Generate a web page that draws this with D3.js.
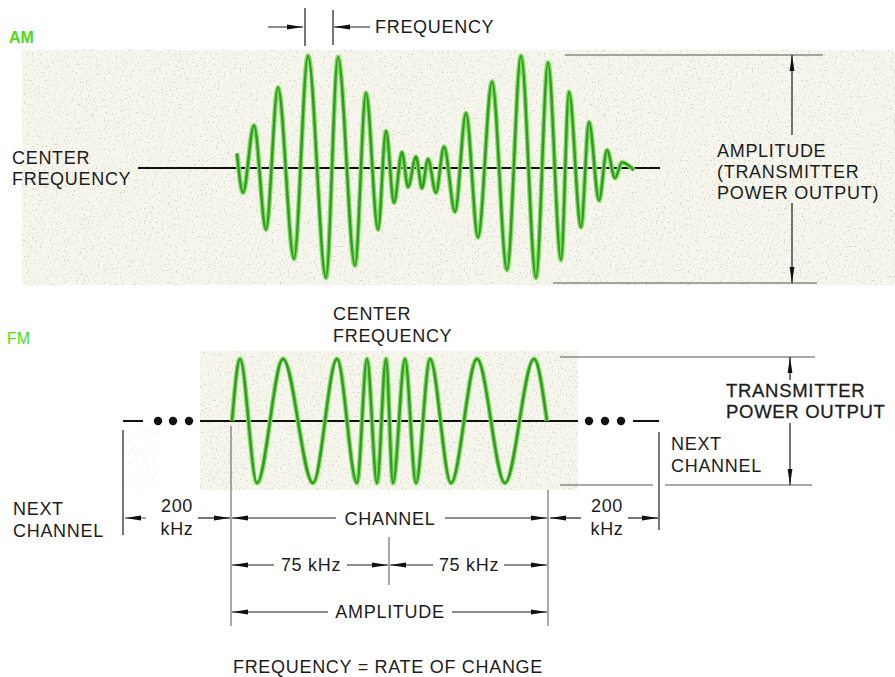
<!DOCTYPE html>
<html>
<head>
<meta charset="utf-8">
<style>
body { margin: 0; background: #fff; }
svg { font-family: "Liberation Sans", Arial, Helvetica, sans-serif; }
.lbl { font-size: 18px; fill: #1c1c1c; letter-spacing: 0.7px; }
.dim { stroke: #1c1c1c; stroke-width: 1.2; fill: none; }
.faint { stroke: #555; stroke-width: 1; fill: none; }
.axis0 { stroke: #111; stroke-width: 2; fill: none; }
</style>
</head>
<body>
<svg width="895" height="677"></svg>
<script src="https://cdn.jsdelivr.net/npm/d3@7"></script>
<script>

// AM wave: extrema (time offset, relative amplitude)
var amTime = [0, 6, 17, 29, 41, 57, 71, 89, 101, 118, 129, 141, 149, 157, 165, 171, 179, 185, 191, 199,
              207, 218, 229, 241, 255, 270, 284, 299, 311, 324, 332, 344, 352, 362, 370, 378, 385, 397];
var amAmp  = [0.13, -0.22, 0.38, -0.55, 0.72, -0.81, 1.0, -0.98, 0.99, -0.87, 0.67, -0.55, 0.33, -0.31, 0.14, -0.17, 0.10, -0.18, 0.08, -0.22,
              0.19, -0.39, 0.49, -0.62, 0.77, -0.91, 1.0, -0.98, 0.94, -0.82, 0.68, -0.53, 0.41, -0.29, 0.16, -0.09, 0.05, -0.02];

// FM wave: constant amplitude, spacing of the swings changes
var fmTime = [0, 8, 25, 51, 81, 105, 125, 135, 145, 154, 161, 173, 184, 198, 219, 245, 273, 302, 315];
var fmAmp  = [0, 1, -1, 1, -1, 1, -1, 1, -1, 1, -1, 1, -1, 1, -1, 1, -1, 1, 0];

var svg = d3.select("svg");
var defs = svg.append("defs");

// arrow head
defs.append("marker")
    .attr("id", "arr")
    .attr("viewBox", "0 0 16 6")
    .attr("refX", 16).attr("refY", 3)
    .attr("markerWidth", 16).attr("markerHeight", 6)
    .attr("markerUnits", "userSpaceOnUse")
    .attr("orient", "auto-start-reverse")
  .append("path")
    .attr("d", "M0,0.6 L16,3 L0,5.4 Z")
    .attr("fill", "#111");

// paper speckle
var f = defs.append("filter").attr("id", "speck").attr("x", 0).attr("y", 0).attr("width", 1).attr("height", 1);
f.append("feTurbulence").attr("type", "fractalNoise").attr("baseFrequency", 0.5).attr("numOctaves", 2).attr("seed", 3).attr("result", "n");
f.append("feColorMatrix").attr("in", "n").attr("type", "matrix")
  .attr("values", "0 0 0 0 0.5  0 0 0 0 0.5  0 0 0 0 0.47  6 0 0 0 -3.6");
f.append("feComponentTransfer").append("feFuncA").attr("type", "linear").attr("slope", 0.55).attr("intercept", 0);

function paper(x, y, w, h, base, op) {
  if (base) svg.append("rect").attr("x", x).attr("y", y).attr("width", w).attr("height", h).attr("fill", base);
  svg.append("rect").attr("x", x).attr("y", y).attr("width", w).attr("height", h)
    .attr("filter", "url(#speck)").attr("opacity", op || 1);
}
paper(22, 50, 873, 235, "#f7f6ec");
paper(200, 351, 378, 139, "#f7f6ec");
paper(125, 430, 33, 60, null, 0.45);

// scales
var amX = d3.scaleLinear().domain([0, 400]).range([237, 637]);
var amY = d3.scaleLinear().domain([-1, 1]).range([280, 56]);
var fmX = d3.scaleLinear().domain([0, 315]).range([232, 547]);
var fmY = d3.scaleLinear().domain([-1, 1]).range([483, 359]);

function line(x1, y1, x2, y2, cls, a1, a2) {
  var l = svg.append("line").attr("x1", x1).attr("y1", y1).attr("x2", x2).attr("y2", y2).attr("class", cls || "dim");
  if (a1) l.attr("marker-start", "url(#arr)");
  if (a2) l.attr("marker-end", "url(#arr)");
  return l;
}
function text(x, y, s, anchor, cls) {
  return svg.append("text").attr("x", x).attr("y", y).attr("class", cls || "lbl")
    .attr("text-anchor", anchor || "start").text(s);
}

// center lines
line(138, amY(0), 660, amY(0), "axis0");
line(200, fmY(0), 578, fmY(0), "axis0");
line(123, fmY(0), 143, fmY(0), "axis0");
line(633, fmY(0), 659, fmY(0), "axis0");
svg.selectAll(".dotL").data([158, 173, 189, 589, 605, 621]).enter().append("circle")
  .attr("cx", function(d) { return d; }).attr("cy", fmY(0)).attr("r", 4.2).attr("fill", "#111");

// waves
function wave(t, a, xs, ys) {
  var pts = t.map(function(d, i) { return [xs(d), ys(a[i])]; });
  var gen = d3.line().curve(d3.curveMonotoneX);
  svg.append("path").attr("d", gen(pts)).attr("fill", "none").attr("stroke", "#86dc66").attr("stroke-width", 4.8);
  svg.append("path").attr("d", gen(pts)).attr("fill", "none").attr("stroke", "#2f9d1f").attr("stroke-width", 2.4);
}
wave(amTime, amAmp, amX, amY);
wave(fmTime, fmAmp, fmX, fmY);

// AM labels
svg.append("text").attr("x", 9).attr("y", 43).attr("font-size", 16).attr("font-weight", "bold")
  .attr("fill", "#4cdc12").text("AM");
text(12, 164, "CENTER");
text(12, 185, "FREQUENCY");

line(268, 27, 303, 27, "dim", false, true);
line(370, 27, 334, 27, "dim", false, true);
line(305, 8, 305, 46);
line(333, 10, 333, 45);
text(375, 33, "FREQUENCY");

line(565, 55, 823, 55, "faint");
line(553, 283, 817, 283, "faint");
line(792, 135, 792, 55, "dim", false, true);
line(792, 203, 792, 283, "dim", false, true);
text(717, 157, "AMPLITUDE");
text(717, 178, "(TRANSMITTER");
text(717, 199, "POWER OUTPUT)");

// FM labels
svg.append("text").attr("x", 7).attr("y", 344).attr("font-size", 16)
  .attr("fill", "#4cdc12").text("FM");
text(333, 320, "CENTER");
text(333, 342, "FREQUENCY");

line(560, 357, 815, 357, "faint");
line(560, 485, 653, 485, "faint");
line(665, 485, 812, 485, "faint");
line(790, 380, 790, 357, "dim", false, true);
line(790, 423, 790, 485, "dim", false, true);
text(726, 397, "TRANSMITTER").style("font-size", "18.5px").style("stroke", "#1c1c1c").style("stroke-width", 0.3);
text(726, 418, "POWER OUTPUT").style("font-size", "18.5px").style("stroke", "#1c1c1c").style("stroke-width", 0.3);
text(671, 450, "NEXT");
text(671, 472, "CHANNEL");

text(13, 515, "NEXT");
text(13, 537, "CHANNEL");

// verticals
line(123, 430, 123, 535);
line(659, 432, 659, 530);
line(231, 426, 231, 626, "faint");
line(548, 490, 548, 626, "faint");
line(389, 537, 389, 585, "faint");

// channel row
var yC = 518;
line(146, yC, 125, yC, "faint", false, true);
text(177, 512, "200", "middle");
text(177, 535, "kHz", "middle");
line(198, yC, 230, yC, "dim", false, true);
line(336, yC, 232, yC, "dim", false, true);
text(390, 525, "CHANNEL", "middle");
line(445, yC, 547, yC, "dim", false, true);
line(581, yC, 550, yC, "dim", false, true);
text(607, 512, "200", "middle");
text(607, 535, "kHz", "middle");
line(628, yC, 658, yC, "dim", false, true);

// 75 kHz row
var y75 = 565;
line(274, y75, 232, y75, "dim", false, true);
text(311, 571, "75 kHz", "middle");
line(347, y75, 388, y75, "dim", false, true);
line(433, y75, 390, y75, "dim", false, true);
text(469, 571, "75 kHz", "middle");
line(504, y75, 547, y75, "dim", false, true);

// amplitude row
var yA = 612;
line(328, yA, 232, yA, "dim", false, true);
text(390, 618, "AMPLITUDE", "middle");
line(452, yA, 547, yA, "dim", false, true);

text(388, 673, "FREQUENCY = RATE OF CHANGE", "middle");

</script>
</body>
</html>
